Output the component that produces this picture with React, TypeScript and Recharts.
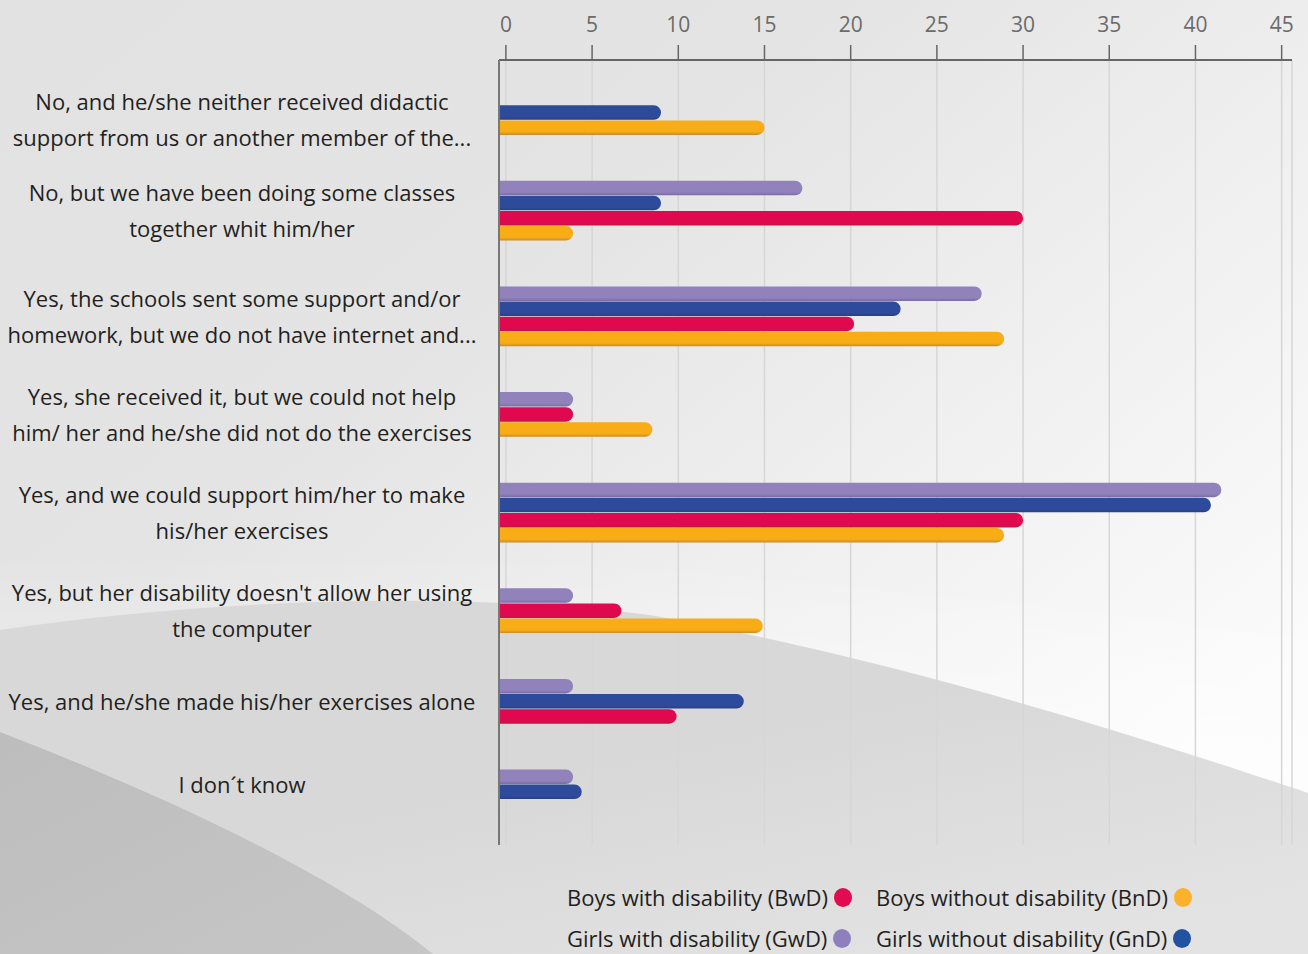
import { Bar, BarChart, CartesianGrid, Cell, XAxis, YAxis } from 'recharts';

const categories = [
  'No, and he/she neither received didactic\nsupport from us or another member of the...',
  'No, but we have been doing some classes\ntogether whit him/her',
  'Yes, the schools sent some support and/or\nhomework, but we do not have internet and...',
  'Yes, she received it, but we could not help\nhim/ her and he/she did not do the exercises',
  'Yes, and we could support him/her to make\nhis/her exercises',
  "Yes, but her disability doesn't allow her using\nthe computer",
  'Yes, and he/she made his/her exercises alone',
  'I don´t know',
];

// null = no answer from that group (bar left out, the others close up)
const girlsWithDisability = [null, 17.2, 27.6, 3.9, 41.5, 3.9, 3.9, 3.9];
const girlsWithoutDisability = [9.0, 9.0, 22.9, null, 40.9, null, 13.8, 4.4];
const boysWithDisability = [null, 30.0, 20.2, 3.9, 30.0, 6.7, 9.9, null];
const boysWithoutDisability = [15.0, 3.9, 28.9, 8.5, 28.9, 14.9, null, null];

const seriesNames = [
  'Girls with disability (GwD)',
  'Girls without disability (GnD)',
  'Boys with disability (BwD)',
  'Boys without disability (BnD)',
];
const seriesValues = [girlsWithDisability, girlsWithoutDisability, boysWithDisability, boysWithoutDisability];
const seriesColors = ['#9182bc', '#2e4b9b', '#e0094f', '#f8ad16'];
const seriesShade = ['#7a6ca0', '#283f82', '#bb1747', '#c98a2a'];
const dotColors = ['#8e80bc', '#2452a2', '#e20a50', '#fbb12c'];
const legendOrder = [2, 3, 0, 1];

const xTicks = [0, 5, 10, 15, 20, 25, 30, 35, 40, 45];
const X_MIN = -0.4;
const X_MAX = 45.6;

const GAP_ROWS = 3;
const CHART_W = 1308;
const CHART_H = 860;
const MARGIN = { top: 0, right: 16, bottom: 15, left: 0 };
const XAXIS_H = 60;
const YAXIS_W = 499;
const LABEL_X = 242;
const FONT = '"Open Sans", "Noto Sans", sans-serif';

type Row = { key: string; value: number | null; series: number };

const rows: Row[] = [];
const labelAt: Record<string, { text: string; shift: number }> = {};
let spacerCount = 0;
const addSpacers = () => {
  for (let i = 0; i < GAP_ROWS; i++) rows.push({ key: `gap${spacerCount++}`, value: null, series: -1 });
};
categories.forEach((cat, ci) => {
  addSpacers();
  const group: Row[] = [];
  seriesValues.forEach((vals, si) => {
    const v = vals[ci];
    if (v != null) group.push({ key: `c${ci}-s${si}`, value: v, series: si });
  });
  const mid = (group.length - 1) / 2;
  const pick = Math.floor(mid);
  labelAt[group[pick].key] = { text: cat, shift: mid - pick };
  rows.push(...group);
});
addSpacers();

const rowH = (CHART_H - MARGIN.top - MARGIN.bottom - XAXIS_H) / rows.length;

function CategoryTick(props: any) {
  const { y, payload } = props;
  const info = labelAt[payload?.value];
  if (!info) return <g />;
  const band = payload?.offset ? payload.offset * 2 : rowH;
  const cy = y + info.shift * band;
  const lines = info.text.split('\n');
  return (
    <text x={LABEL_X} y={cy} textAnchor="middle" fill="#231f20" fontSize={22} fontFamily={FONT}>
      {lines.map((line, i) => (
        <tspan key={i} x={LABEL_X} y={cy + (i - (lines.length - 1) / 2) * 36} dy="0.36em">
          {line}
        </tspan>
      ))}
    </text>
  );
}

function Background() {
  return (
    <svg width={CHART_W} height={954} style={{ position: 'absolute', left: 0, top: 0 }}>
      <defs>
        <linearGradient id="bgBase" x1="0" y1="0" x2="0.9" y2="0.8">
          <stop offset="0%" stopColor="#e2e2e2" />
          <stop offset="40%" stopColor="#e4e4e4" />
          <stop offset="70%" stopColor="#f0f0f0" />
          <stop offset="100%" stopColor="#fbfbfb" />
        </linearGradient>
        <linearGradient id="bgHill" x1="0" y1="0" x2="0.8" y2="1">
          <stop offset="0%" stopColor="#d8d8d8" />
          <stop offset="50%" stopColor="#d8d8d8" />
          <stop offset="100%" stopColor="#e3e3e3" />
        </linearGradient>
        <linearGradient id="bgWedge" x1="0" y1="0" x2="1" y2="1">
          <stop offset="0%" stopColor="#bdbdbd" />
          <stop offset="100%" stopColor="#c6c6c6" />
        </linearGradient>
        <linearGradient id="bgGlow" x1="0" y1="0" x2="0" y2="1">
          <stop offset="0%" stopColor="#ffffff" stopOpacity={0} />
          <stop offset="100%" stopColor="#ffffff" stopOpacity={0.55} />
        </linearGradient>
      </defs>
      <rect width={CHART_W} height={954} fill="url(#bgBase)" />
      <path d="M0,560 C300,540 700,560 1308,640 L1308,793 C1150,740 900,660 650,615 C450,590 200,600 0,630 Z" fill="url(#bgGlow)" />
      <path d="M0,630 C200,600 450,590 650,615 C900,660 1150,740 1308,793 L1308,954 L0,954 Z" fill="url(#bgHill)" />
      <path d="M0,732 C150,790 330,870 433,954 L0,954 Z" fill="url(#bgWedge)" />
    </svg>
  );
}

export default function App() {
  return (
    <div style={{ position: 'absolute', left: 0, top: 0, width: CHART_W, height: 954, overflow: 'hidden' }}>
      <Background />
      <div style={{ position: 'absolute', left: 0, top: 0 }}>
        <BarChart
          width={CHART_W}
          height={CHART_H}
          data={rows}
          layout="vertical"
          margin={MARGIN}
          barCategoryGap={0}
          barGap={0}
        >
          <defs>
            {seriesColors.map((c, i) => (
              <linearGradient key={i} id={`bar${i}`} x1="0" y1="0" x2="0" y2="1">
                <stop offset="0%" stopColor={c} />
                <stop offset="78%" stopColor={c} />
                <stop offset="100%" stopColor={seriesShade[i]} />
              </linearGradient>
            ))}
          </defs>
          <CartesianGrid horizontal={false} stroke="#d6d6d6" strokeWidth={1.5} />
          <XAxis
            type="number"
            orientation="top"
            domain={[X_MIN, X_MAX]}
            ticks={xTicks}
            height={XAXIS_H}
            tickSize={15}
            tickMargin={13}
            axisLine={{ stroke: '#666', strokeWidth: 2 }}
            tickLine={{ stroke: '#666', strokeWidth: 1.5 }}
            tick={{ fill: '#6b6b6b', fontSize: 21, fontFamily: FONT }}
            allowDataOverflow
          />
          <YAxis
            type="category"
            dataKey="key"
            width={YAXIS_W}
            interval={0}
            tickLine={false}
            axisLine={{ stroke: '#777', strokeWidth: 2 }}
            tick={<CategoryTick />}
          />
          <Bar
            dataKey={(r: Row) => (r.value == null ? null : [X_MIN, r.value])}
            barSize={rowH - 0.6}
            radius={[0, 8, 8, 0]}
            isAnimationActive={false}
          >
            {rows.map((r) => (
              <Cell key={r.key} fill={r.series < 0 ? 'none' : `url(#bar${r.series})`} />
            ))}
          </Bar>
        </BarChart>
      </div>
      <div
        style={{
          position: 'absolute',
          left: 567,
          top: 882,
          display: 'grid',
          gridTemplateColumns: '309px auto',
          rowGap: 11,
          fontFamily: FONT,
          fontSize: 22,
          lineHeight: '30px',
          color: '#231f20',
        }}
      >
        {legendOrder.map((si) => (
          <div key={si} style={{ display: 'flex', alignItems: 'center' }}>
            <span>{seriesNames[si]}</span>
            <span
              style={{
                display: 'inline-block',
                width: 18,
                height: 19,
                borderRadius: '50%',
                background: dotColors[si],
                marginLeft: 6,
              }}
            />
          </div>
        ))}
      </div>
    </div>
  );
}
